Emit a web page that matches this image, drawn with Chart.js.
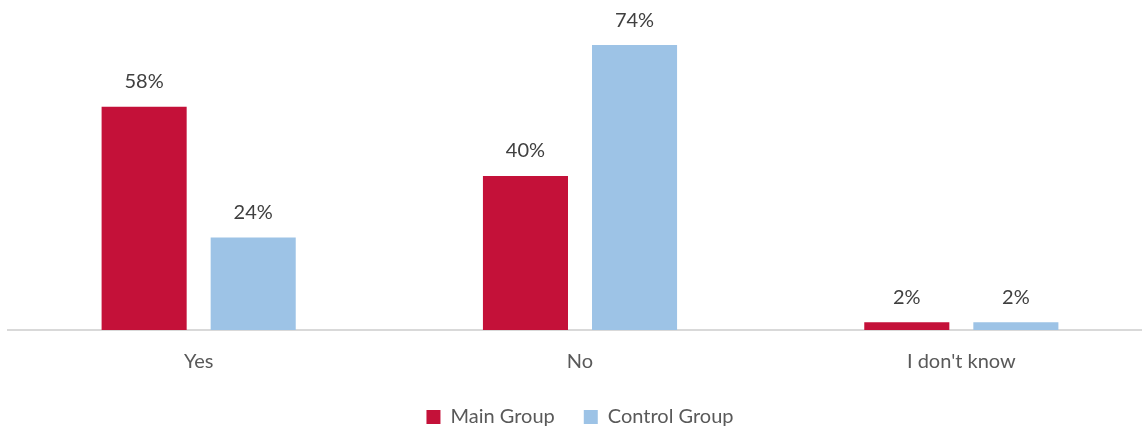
<!DOCTYPE html>
<html>
<head>
<meta charset="utf-8">
<script src="https://cdn.jsdelivr.net/npm/chart.js@4"></script>
<style>
  html, body { margin: 0; padding: 0; background: #fff; overflow: hidden; }
  #wrap { width: 1152px; height: 437px; }
</style>
</head>
<body>
<div id="wrap"><canvas id="bar-chart"></canvas></div>
<script>
// Chart data
var categories = ['Yes', 'No', "I don't know"];
var mainGroup = [58, 40, 2];
var controlGroup = [24, 74, 2];
var seriesNames = ['Main Group', 'Control Group'];

var fontFamily = 'Lato, "Open Sans", sans-serif';

// Draws the value labels above each bar
var valueLabels = {
  id: 'valueLabels',
  afterDatasetsDraw: function (chart) {
    var ctx = chart.ctx;
    ctx.save();
    ctx.font = '20px ' + fontFamily;
    ctx.fillStyle = '#404040';
    ctx.textAlign = 'center';
    ctx.textBaseline = 'middle';
    chart.data.datasets.forEach(function (ds, i) {
      chart.getDatasetMeta(i).data.forEach(function (bar, j) {
        ctx.fillText(ds.data[j] + '%', bar.x, bar.y - 25);
      });
    });
    ctx.restore();
  }
};

document.addEventListener('DOMContentLoaded', function () {
  var chartContainer = document.getElementById('bar-chart');

  var chartData = {
    labels: categories,
    datasets: [{
      label: seriesNames[0],
      data: mainGroup,
      backgroundColor: '#C41139'
    }, {
      label: seriesNames[1],
      data: controlGroup,
      backgroundColor: '#9DC3E6'
    }]
  };

  var chartOptions = {
    responsive: true,
    maintainAspectRatio: false,
    animation: false,
    layout: {
      padding: { top: 22, left: 8, right: 0, bottom: 0 }
    },
    datasets: {
      bar: {
        categoryPercentage: 0.572,
        barPercentage: 0.78
      }
    },
    scales: {
      x: {
        grid: { display: false },
        border: { color: '#D9D9D9', width: 2 },
        ticks: {
          color: '#595959',
          font: { family: fontFamily, size: 20 },
          padding: 12
        },
        afterFit: function (scale) {
          scale.height -= 8;
        }
      },
      y: {
        display: false,
        min: 0,
        max: 80
      }
    },
    plugins: {
      legend: {
        position: 'bottom',
        labels: {
          color: '#595959',
          font: { family: fontFamily, size: 20 },
          boxWidth: 14,
          boxHeight: 14,
          padding: 29
        }
      },
      tooltip: { enabled: false }
    }
  };

  new Chart(chartContainer, {
    type: 'bar',
    data: chartData,
    options: chartOptions,
    plugins: [valueLabels]
  });
});
</script>
</body>
</html>
